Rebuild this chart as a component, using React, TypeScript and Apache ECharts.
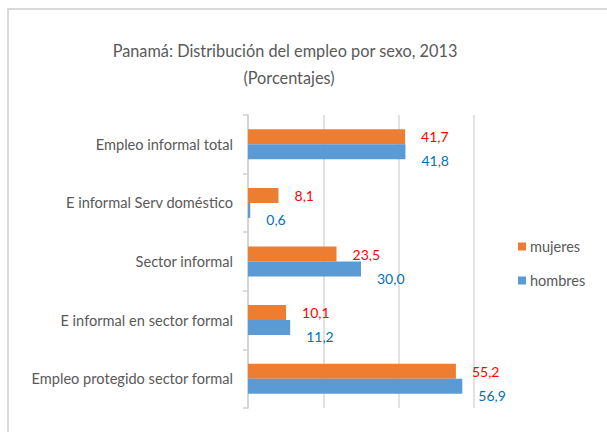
import React, { useEffect, useRef } from "react";
import * as echarts from "echarts";

const categories = [
  "Empleo informal total",
  "E informal Serv doméstico",
  "Sector informal",
  "E informal en sector formal",
  "Empleo protegido sector formal",
];
const mujeres = [41.7, 8.1, 23.5, 10.1, 55.2];
const hombres = [41.8, 0.6, 30.0, 11.2, 56.9];
const titleLines = ["Panamá: Distribución del empleo por sexo, 2013", "(Porcentajes)"];

const FONT = "Lato, 'Liberation Sans', sans-serif";
const fmt = (p: any) => Number(p.value).toFixed(1).replace(".", ",");

export default function App() {
  const ref = useRef<HTMLDivElement>(null);
  useEffect(() => {
    if (!ref.current) return;
    const chart = echarts.init(ref.current, undefined, { renderer: "svg" });
    chart.setOption({
      animation: false,
      backgroundColor: "#ffffff",
      textStyle: { fontFamily: FONT },
      graphic: [
        { type: "line", shape: { x1: 8, y1: 9, x2: 607, y2: 9 }, style: { stroke: "#d9d9d9", lineWidth: 2 } },
        { type: "line", shape: { x1: 8, y1: 8, x2: 8, y2: 432 }, style: { stroke: "#d9d9d9", lineWidth: 2 } },
        {
          type: "text",
          x: 285,
          y: 50,
          style: { text: titleLines[0], textAlign: "center", textVerticalAlign: "middle", fill: "#595959", font: `16.3px ${FONT}` },
        },
        {
          type: "text",
          x: 289,
          y: 77,
          style: { text: titleLines[1], textAlign: "center", textVerticalAlign: "middle", fill: "#595959", font: `16.3px ${FONT}` },
        },
      ],
      legend: {
        orient: "vertical",
        left: 513,
        top: 234,
        itemWidth: 8,
        itemHeight: 8,
        itemGap: 19,
        icon: "rect",
        data: ["mujeres", "hombres"],
        textStyle: { color: "#595959", fontSize: 14.5, fontFamily: FONT, padding: [0, 0, 0, -1] },
      },
      grid: { left: 248, right: 133, top: 115, bottom: 24 },
      xAxis: {
        type: "value",
        min: 0,
        max: 60,
        interval: 20,
        axisLabel: { show: false },
        axisLine: { show: false },
        axisTick: { show: false },
        splitLine: { show: true, lineStyle: { color: "#d9d9d9", width: 1.5 } },
      },
      yAxis: {
        type: "category",
        inverse: true,
        data: categories,
        axisLine: { show: true, lineStyle: { color: "#d0d0d0", width: 1.5 } },
        axisTick: { show: true, length: 5, lineStyle: { color: "#d0d0d0", width: 1.5 } },
        axisLabel: { color: "#595959", fontSize: 14.6, fontFamily: FONT, margin: 15 },
      },
      series: [
        {
          name: "mujeres",
          type: "bar",
          data: mujeres,
          barWidth: 15,
          barGap: "0%",
          itemStyle: { color: "#ED7D31" },
          label: {
            show: true,
            position: "right",
            distance: 0,
            offset: [16, 0],
            color: "#FF0000",
            fontSize: 14,
            fontFamily: FONT,
            formatter: fmt,
          },
        },
        {
          name: "hombres",
          type: "bar",
          data: hombres,
          barWidth: 15,
          barGap: "0%",
          itemStyle: { color: "#5B9BD5" },
          label: {
            show: true,
            position: "right",
            distance: 0,
            offset: [16, 9],
            color: "#0070C0",
            fontSize: 14,
            fontFamily: FONT,
            formatter: fmt,
          },
        },
      ],
    });
    return () => chart.dispose();
  }, []);
  return (
    <div style={{ position: "absolute", left: 0, top: 0, width: 607, height: 432 }}>
      <div ref={ref} style={{ width: 607, height: 432 }} />
    </div>
  );
}
